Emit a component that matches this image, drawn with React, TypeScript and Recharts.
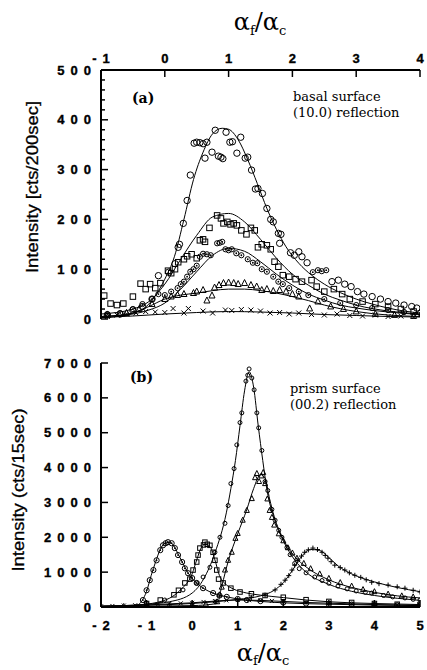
import React from 'react';
import { ComposedChart, Line, Scatter, XAxis, YAxis } from 'recharts';

// ---------- Panel (a): basal surface (10.0) reflection ----------
const aXTicks = [-1, 0, 1, 2, 3, 4];
const aYTicks = [0, 20, 40, 60, 80, 100, 120, 140, 160, 180, 200, 220, 240, 260, 280, 300, 320, 340, 360, 380, 400, 420, 440, 460, 480, 500];

const fitA1 = [[-1, 3], [-0.75, 5], [-0.5, 12], [-0.25, 30], [0, 80], [0.15, 125], [0.3, 200], [0.45, 280], [0.6, 335], [0.75, 372], [0.9, 383], [1.0, 381], [1.15, 360], [1.3, 320], [1.45, 272], [1.6, 222], [1.75, 180], [1.9, 145], [2.1, 112], [2.3, 88], [2.5, 70], [2.75, 53], [3.0, 40], [3.25, 30], [3.5, 22], [3.75, 16], [4.0, 12]];
const fitA2 = [[-1, 10], [-0.5, 20], [-0.25, 35], [0, 70], [0.25, 120], [0.5, 168], [0.75, 205], [1.0, 212], [1.25, 195], [1.5, 160], [1.75, 122], [2.0, 90], [2.25, 68], [2.5, 50], [2.75, 38], [3.0, 28], [3.5, 16], [4.0, 10]];
const fitA3 = [[-1, 5], [-0.5, 10], [-0.25, 18], [0, 32], [0.25, 60], [0.5, 95], [0.75, 128], [1.0, 142], [1.25, 136], [1.5, 115], [1.75, 90], [2.0, 68], [2.25, 50], [2.5, 38], [2.75, 28], [3.0, 22], [3.5, 14], [4.0, 9]];
const fitA4 = [[-1, 5], [-0.5, 12], [-0.25, 25], [0, 40], [0.25, 48], [0.5, 52], [0.75, 57], [1.0, 60], [1.25, 60], [1.5, 57], [1.75, 52], [2.0, 45], [2.25, 37], [2.5, 28], [3.0, 15], [3.5, 8], [4.0, 5]];
const fitA5 = [[-1, 3], [-0.5, 6], [0, 10], [0.5, 13], [1.0, 15], [1.5, 14], [2.0, 12], [2.5, 9], [3.0, 7], [3.5, 5], [4.0, 4]];

const ptsA1 = [[-0.9, 8], [-0.7, 10], [-0.5, 18], [-0.35, 25], [-0.2, 40], [-0.1, 87], [0.06, 94], [0.16, 111], [0.21, 144], [0.23, 150], [0.29, 192], [0.35, 238], [0.4, 289], [0.46, 353], [0.5, 355], [0.55, 354], [0.6, 352], [0.63, 323], [0.66, 355], [0.74, 335], [0.79, 379], [0.84, 327], [0.88, 325], [0.91, 322], [0.96, 375], [1.02, 355], [1.06, 356], [1.13, 333], [1.19, 365], [1.26, 323], [1.3, 325], [1.36, 299], [1.42, 261], [1.46, 262], [1.53, 252], [1.6, 222], [1.66, 200], [1.7, 195], [1.78, 172], [1.82, 170], [1.8, 152], [1.97, 133], [2.03, 128], [2.1, 135], [2.15, 125], [2.23, 113], [2.62, 75], [2.72, 78], [2.82, 70], [2.92, 65], [3.02, 55], [3.12, 50], [3.25, 45], [3.38, 40], [3.5, 35], [3.62, 32], [3.75, 28], [3.87, 25], [3.95, 22]];
const ptsA2 = [[-0.95, 47], [-0.85, 31], [-0.75, 28], [-0.65, 31], [-0.5, 45], [-0.38, 71], [-0.3, 60], [-0.23, 70], [-0.15, 62], [-0.07, 72], [0.05, 97], [0.1, 92], [0.16, 100], [0.21, 114], [0.3, 120], [0.35, 126], [0.42, 130], [0.5, 122], [0.55, 158], [0.6, 160], [0.63, 155], [0.7, 183], [0.82, 208], [0.88, 202], [0.92, 192], [0.98, 195], [1.03, 190], [1.08, 192], [1.13, 188], [1.2, 178], [1.28, 170], [1.35, 183], [1.41, 178], [1.46, 144], [1.52, 150], [1.6, 148], [1.66, 140], [1.72, 115], [1.78, 105], [1.85, 88], [1.95, 85], [2.05, 80], [2.15, 75], [2.3, 78], [2.38, 65], [2.5, 55], [2.65, 60], [2.78, 50], [2.9, 40], [3.1, 35], [3.3, 30], [3.5, 25], [3.7, 20], [3.9, 15]];
const ptsA3 = [[-0.9, 10], [-0.7, 12], [-0.5, 20], [-0.35, 30], [-0.2, 40], [-0.1, 50], [0.0, 48], [0.1, 55], [0.2, 62], [0.25, 70], [0.3, 75], [0.35, 85], [0.4, 95], [0.45, 100], [0.5, 107], [0.55, 125], [0.6, 131], [0.66, 130], [0.72, 128], [0.82, 152], [0.86, 153], [0.9, 155], [0.95, 140], [1.0, 138], [1.05, 140], [1.12, 132], [1.2, 128], [1.3, 120], [1.38, 113], [1.45, 112], [1.52, 100], [1.6, 95], [1.7, 85], [1.78, 75], [1.85, 70], [1.95, 62], [2.1, 55], [2.32, 94], [2.4, 98], [2.46, 96], [2.53, 98], [2.25, 48], [2.5, 40], [2.75, 32], [3.0, 28], [3.25, 22], [3.5, 18], [3.75, 14], [4.0, 12]];
const ptsA4 = [[-0.9, 8], [-0.6, 12], [-0.4, 20], [-0.2, 30], [0.0, 40], [0.1, 45], [0.2, 48], [0.3, 50], [0.45, 52], [0.5, 55], [0.6, 58], [0.66, 37], [0.74, 47], [0.78, 63], [0.85, 68], [0.92, 72], [1.0, 73], [1.08, 72], [1.15, 70], [1.25, 72], [1.35, 68], [1.44, 65], [1.52, 58], [1.6, 60], [1.7, 56], [1.8, 58], [1.9, 55], [2.0, 50], [2.1, 45], [2.27, 21], [2.4, 35], [2.6, 25], [2.8, 20], [3.0, 15], [3.3, 10], [3.6, 8], [3.9, 6]];
const ptsA5 = [[-0.9, 5], [-0.75, 8], [-0.6, 10], [-0.45, 12], [-0.3, 15], [-0.15, 14], [0.0, 13], [0.13, 21], [0.3, 12], [0.37, 21], [0.6, 16], [0.75, 12], [0.95, 18], [1.05, 17], [1.2, 19], [1.35, 18], [1.5, 16], [1.65, 12], [1.8, 13], [1.95, 10], [2.1, 12], [2.3, 9], [2.5, 8], [2.7, 10], [2.9, 7], [3.1, 6], [3.3, 8], [3.5, 5], [3.7, 6], [3.9, 4]];

// ---------- Panel (b): prism surface (00.2) reflection ----------
const bXTicks = [-2, -1, 0, 1, 2, 3, 4, 5];
const bYTicks = [0, 1000, 2000, 3000, 4000, 5000, 6000, 7000];

const fitB1 = [[-2, 20], [-1, 80], [-0.5, 150], [0, 400], [0.25, 800], [0.5, 1550], [0.75, 2700], [0.85, 3400], [0.95, 4200], [1.05, 5200], [1.15, 6200], [1.25, 6750], [1.35, 6300], [1.45, 5200], [1.55, 4200], [1.65, 3300], [1.8, 2550], [2.0, 1900], [2.25, 1350], [2.5, 1000], [3.0, 650], [3.5, 450], [4.0, 330], [4.5, 250], [5.0, 190]];
const fitB2 = [[-2, 10], [0, 40], [0.55, 100], [0.65, 600], [0.8, 1350], [1.0, 2100], [1.2, 2800], [1.35, 3400], [1.5, 3800], [1.6, 3700], [1.7, 3100], [1.8, 2600], [2.0, 1950], [2.25, 1450], [2.5, 1150], [3.0, 780], [3.5, 560], [4.0, 420], [4.5, 320], [5.0, 260]];
const fitB3 = [[-2, 10], [-1.5, 20], [-1.2, 60], [-1.1, 180], [-1.0, 450], [-0.9, 900], [-0.8, 1300], [-0.7, 1650], [-0.6, 1830], [-0.5, 1850], [-0.4, 1750], [-0.3, 1500], [-0.2, 1250], [-0.1, 1000], [0, 820], [0.2, 580], [0.4, 430], [0.6, 340], [0.8, 280], [1.0, 230], [1.5, 160], [2.0, 120], [3.0, 80], [4.0, 55], [5.0, 40]];
const fitB4 = [[-2, 15], [-1.5, 30], [-1, 80], [-0.5, 250], [-0.25, 500], [0, 950], [0.1, 1350], [0.2, 1700], [0.3, 1800], [0.4, 1720], [0.5, 1350], [0.6, 900], [0.7, 700], [0.9, 520], [1.2, 400], [1.5, 340], [2.0, 270], [2.5, 200], [3.0, 150], [4.0, 100], [5.0, 70]];
const fitB5 = [[-2, 30], [-1, 50], [0, 100], [0.5, 150], [1.0, 220], [1.5, 320], [1.8, 480], [2.0, 700], [2.2, 1050], [2.4, 1450], [2.6, 1650], [2.8, 1620], [3.0, 1420], [3.2, 1180], [3.5, 950], [4.0, 720], [4.5, 560], [5.0, 440]];
const fitB6 = [[-2, 20], [-1.5, 40], [-1, 60], [-0.5, 90], [0, 120], [0.5, 170], [1.0, 200], [1.5, 190], [2.0, 160], [2.5, 130], [3.0, 110], [3.5, 90], [4.0, 70], [4.5, 60], [5.0, 50]];

const ptsB1 = [[-1.0, 100], [-0.6, 200], [-0.2, 490], [0.1, 690], [0.24, 860], [0.39, 1140], [0.5, 1570], [0.61, 2000], [0.72, 2400], [0.79, 2910], [0.85, 3540], [0.92, 3970], [0.98, 4650], [1.05, 5290], [1.09, 5570], [1.18, 6480], [1.22, 6650], [1.25, 6830], [1.31, 6570], [1.36, 6230], [1.42, 5570], [1.46, 5140], [1.53, 4490], [1.6, 3600], [1.66, 3340], [1.75, 2800], [1.82, 2490], [1.9, 2200], [1.97, 2000], [2.08, 1710], [2.15, 1500], [2.25, 1250], [2.35, 1100], [2.5, 980], [2.69, 860], [2.85, 760], [3.0, 680], [3.2, 600], [3.4, 520], [3.6, 460], [3.8, 420], [3.94, 400], [4.2, 330], [4.4, 290], [4.67, 260], [4.85, 220], [5.0, 200]];
const ptsB2 = [[0.0, 50], [0.3, 80], [0.55, 150], [0.6, 350], [0.65, 570], [0.72, 1060], [0.79, 1340], [0.87, 1570], [0.95, 1970], [1.0, 2110], [1.11, 2490], [1.2, 2770], [1.31, 3110], [1.38, 3710], [1.42, 3830], [1.47, 3600], [1.52, 3760], [1.56, 3860], [1.6, 3540], [1.65, 3100], [1.7, 2770], [1.75, 2570], [1.8, 2350], [1.9, 2100], [2.0, 1900], [2.1, 1700], [2.2, 1550], [2.3, 1400], [2.45, 1250], [2.6, 1100], [2.8, 950], [3.0, 820], [3.25, 700], [3.5, 600], [3.75, 500], [4.0, 440], [4.3, 370], [4.6, 320], [4.85, 290]];
const ptsB3 = [[-1.08, 200], [-1.0, 480], [-0.93, 770], [-0.85, 1060], [-0.78, 1340], [-0.7, 1630], [-0.64, 1770], [-0.58, 1830], [-0.53, 1860], [-0.45, 1830], [-0.38, 1690], [-0.31, 1490], [-0.22, 1290], [-0.16, 1110], [-0.09, 970], [0.0, 830], [0.1, 690], [0.24, 540], [0.46, 400], [0.6, 330], [0.76, 290], [1.0, 230], [1.2, 200], [1.5, 170], [2.0, 130], [2.5, 100], [3.0, 85], [3.5, 70], [4.0, 60], [4.5, 50], [5.0, 40]];
const ptsB4 = [[-1.0, 100], [-0.7, 200], [-0.4, 350], [-0.3, 480], [-0.16, 690], [-0.05, 800], [0.02, 1060], [0.1, 1290], [0.13, 1490], [0.17, 1690], [0.25, 1780], [0.28, 1860], [0.33, 1800], [0.39, 1770], [0.46, 1570], [0.5, 1340], [0.54, 1060], [0.58, 800], [0.68, 690], [0.85, 540], [1.05, 430], [1.3, 380], [1.6, 330], [2.0, 280], [2.5, 210], [3.0, 160], [3.5, 130], [4.0, 100], [4.5, 80], [5.0, 70]];
const ptsB5 = [[-1.5, 40], [-1.0, 50], [-0.5, 70], [0.0, 100], [0.5, 150], [1.0, 220], [1.3, 270], [1.6, 340], [1.82, 490], [1.95, 650], [2.04, 770], [2.12, 900], [2.19, 1060], [2.25, 1200], [2.32, 1340], [2.4, 1460], [2.47, 1570], [2.55, 1640], [2.65, 1690], [2.75, 1650], [2.85, 1570], [2.92, 1480], [2.98, 1400], [3.05, 1300], [3.13, 1200], [3.25, 1130], [3.35, 1060], [3.45, 980], [3.57, 910], [3.7, 850], [3.82, 780], [3.94, 710], [4.1, 670], [4.3, 630], [4.5, 580], [4.67, 540], [4.85, 480], [5.0, 430]];
const ptsB6 = [[-2, 20], [-1.75, 30], [-1.5, 40], [-1.25, 50], [-1, 60], [-0.75, 75], [-0.5, 90], [-0.25, 105], [0, 120], [0.25, 145], [0.5, 170], [0.75, 190], [1.0, 200], [1.25, 195], [1.5, 190], [1.75, 175], [2.0, 160], [2.5, 130], [3.0, 110], [3.5, 90], [4.0, 70], [4.5, 60], [5.0, 50]];

const toPts = (a: number[][]) => a.map(([x, y]) => ({ x, y }));

// ---------- styling helpers ----------
const TICK_FAMILY = '"Liberation Sans", Arial, Helvetica, sans-serif';
const SPACING = 6;

type Side = 'top' | 'bottom' | 'left' | 'right';
const tickText = (x: number, y: number, anchor: 'middle' | 'end', s: string) => {
  const single = s.length === 1;
  return (
    <text
      x={anchor === 'middle' && !single ? x + SPACING / 2 : x}
      y={y}
      textAnchor={anchor}
      fontFamily={TICK_FAMILY}
      fontWeight="bold"
      fontSize={13}
      letterSpacing={single ? 0 : SPACING}
      fill="#000"
      stroke="#000"
      strokeWidth={0.35}
    >
      {s}
    </text>
  );
};
const makeTick = (side: Side, labels: boolean, majorEvery: number) => (props: any) => {
  const { x, y, payload } = props;
  const v = payload.value as number;
  const isMajor = Math.abs(v / majorEvery - Math.round(v / majorEvery)) < 1e-6;
  const len = isMajor ? 7 : 4;
  let line;
  let label = null;
  if (side === 'top') {
    line = <line x1={x} y1={y} x2={x} y2={y + len} stroke="#000" strokeWidth={1.5} />;
    if (labels && isMajor) label = tickText(x, y - 7, 'middle', String(v));
  } else if (side === 'bottom') {
    line = <line x1={x} y1={y} x2={x} y2={y - len} stroke="#000" strokeWidth={1.5} />;
    if (labels && isMajor) label = tickText(x, y + 23, 'middle', String(v));
  } else if (side === 'left') {
    line = <line x1={x} y1={y} x2={x + len} y2={y} stroke="#000" strokeWidth={1.5} />;
    if (labels && isMajor) label = tickText(x - 4 + (String(v).length === 1 ? -SPACING : 0), y + 4.5, 'end', String(v));
  } else {
    line = <line x1={x} y1={y} x2={x - len} y2={y} stroke="#000" strokeWidth={1.5} />;
  }
  return (
    <g>
      {line}
      {label}
    </g>
  );
};

const AXIS_LINE = { stroke: '#000', strokeWidth: 2 };

// marker shapes
const openCircle = (r: number, dot: boolean) => (p: any) => (
  <g>
    <circle cx={p.cx} cy={p.cy} r={r} fill="none" stroke="#000" strokeWidth={1} />
    {dot ? <circle cx={p.cx} cy={p.cy} r={0.9} fill="#000" /> : null}
  </g>
);
const openSquare = (s: number) => (p: any) => (
  <rect x={p.cx - s / 2} y={p.cy - s / 2} width={s} height={s} fill="none" stroke="#000" strokeWidth={1} />
);
const openTriangle = (s: number) => (p: any) => (
  <polygon
    points={`${p.cx},${p.cy - s * 0.6} ${p.cx - s / 2},${p.cy + s * 0.4} ${p.cx + s / 2},${p.cy + s * 0.4}`}
    fill="none"
    stroke="#000"
    strokeWidth={1}
  />
);
const cross = (s: number) => (p: any) => (
  <g stroke="#000" strokeWidth={1}>
    <line x1={p.cx - s} y1={p.cy - s} x2={p.cx + s} y2={p.cy + s} />
    <line x1={p.cx - s} y1={p.cy + s} x2={p.cx + s} y2={p.cy - s} />
  </g>
);
const plus = (s: number) => (p: any) => (
  <g stroke="#000" strokeWidth={1}>
    <line x1={p.cx - s} y1={p.cy} x2={p.cx + s} y2={p.cy} />
    <line x1={p.cx} y1={p.cy - s} x2={p.cx} y2={p.cy + s} />
  </g>
);

const fitLine = (data: number[][], xId: string, yId: string, key: string) => (
  <Line
    key={key}
    xAxisId={xId}
    yAxisId={yId}
    data={toPts(data)}
    dataKey="y"
    type="monotone"
    dot={false}
    activeDot={false}
    stroke="#000"
    strokeWidth={1}
    isAnimationActive={false}
  />
);
const pointSet = (data: number[][], xId: string, yId: string, key: string, shape: any) => (
  <Scatter
    key={key}
    xAxisId={xId}
    yAxisId={yId}
    data={toPts(data)}
    dataKey="y"
    shape={shape}
    isAnimationActive={false}
  />
);

const SERIF = '"DejaVu Serif", "Liberation Serif", serif';
const SANS = '"Liberation Sans", Arial, sans-serif';

export default function App() {
  return (
    <div style={{ position: 'absolute', left: 0, top: 0, width: 427, height: 670, background: '#fff' }}>
      {/* Panel (a) */}
      <div style={{ position: 'absolute', left: 0, top: 0 }}>
        <ComposedChart width={427} height={330} margin={{ top: 40, right: 7, bottom: 11, left: 41 }}>
          <XAxis xAxisId="t" orientation="top" type="number" dataKey="x" domain={[-1, 4]} allowDataOverflow ticks={aXTicks} interval={0} height={30} tickSize={0} tickMargin={0} tickLine={false} axisLine={AXIS_LINE} tick={makeTick('top', true, 1)} />
          <XAxis xAxisId="b" orientation="bottom" type="number" dataKey="x" domain={[-1, 4]} allowDataOverflow ticks={aXTicks} interval={0} height={0} tickSize={0} tickMargin={0} tickLine={false} axisLine={AXIS_LINE} tick={makeTick('bottom', false, 1)} />
          <YAxis yAxisId="l" orientation="left" type="number" domain={[0, 500]} allowDataOverflow ticks={aYTicks} interval={0} width={60} tickSize={0} tickMargin={0} tickLine={false} axisLine={AXIS_LINE} tick={makeTick('left', true, 100)} />
          <YAxis yAxisId="r" orientation="right" type="number" domain={[0, 500]} allowDataOverflow ticks={aYTicks} interval={0} width={0} tickSize={0} tickMargin={0} tickLine={false} axisLine={AXIS_LINE} tick={makeTick('right', false, 100)} />
          {fitLine(fitA1, 't', 'l', 'fa1')}
          {fitLine(fitA2, 't', 'l', 'fa2')}
          {fitLine(fitA3, 't', 'l', 'fa3')}
          {fitLine(fitA4, 't', 'l', 'fa4')}
          {fitLine(fitA5, 't', 'l', 'fa5')}
          {pointSet(ptsA1, 't', 'l', 'pa1', openCircle(3.2, false))}
          {pointSet(ptsA2, 't', 'l', 'pa2', openSquare(5.5))}
          {pointSet(ptsA3, 't', 'l', 'pa3', openCircle(2.6, true))}
          {pointSet(ptsA4, 't', 'l', 'pa4', openTriangle(6))}
          {pointSet(ptsA5, 't', 'l', 'pa5', cross(2.5))}
        </ComposedChart>
      </div>

      {/* Panel (b) */}
      <div style={{ position: 'absolute', left: 0, top: 340 }}>
        <ComposedChart width={427} height={330} margin={{ top: 23, right: 7, bottom: 23, left: 41 }}>
          <XAxis xAxisId="t" orientation="top" type="number" dataKey="x" domain={[-2, 5]} allowDataOverflow ticks={bXTicks} interval={0} height={0} tickSize={0} tickMargin={0} tickLine={false} axisLine={AXIS_LINE} tick={makeTick('top', false, 1)} />
          <XAxis xAxisId="b" orientation="bottom" type="number" dataKey="x" domain={[-2, 5]} allowDataOverflow ticks={bXTicks} interval={0} height={40} tickSize={0} tickMargin={0} tickLine={false} axisLine={AXIS_LINE} tick={makeTick('bottom', true, 1)} />
          <YAxis yAxisId="l" orientation="left" type="number" domain={[0, 7000]} allowDataOverflow ticks={bYTicks} interval={0} width={60} tickSize={0} tickMargin={0} tickLine={false} axisLine={AXIS_LINE} tick={makeTick('left', true, 1000)} />
          <YAxis yAxisId="r" orientation="right" type="number" domain={[0, 7000]} allowDataOverflow ticks={bYTicks} interval={0} width={0} tickSize={0} tickMargin={0} tickLine={false} axisLine={AXIS_LINE} tick={makeTick('right', false, 1000)} />
          {fitLine(fitB1, 'b', 'l', 'fb1')}
          {fitLine(fitB2, 'b', 'l', 'fb2')}
          {fitLine(fitB3, 'b', 'l', 'fb3')}
          {fitLine(fitB4, 'b', 'l', 'fb4')}
          {fitLine(fitB5, 'b', 'l', 'fb5')}
          {fitLine(fitB6, 'b', 'l', 'fb6')}
          {pointSet(ptsB1, 'b', 'l', 'pb1', openCircle(2, false))}
          {pointSet(ptsB2, 'b', 'l', 'pb2', openTriangle(5))}
          {pointSet(ptsB3, 'b', 'l', 'pb3', openCircle(2.6, true))}
          {pointSet(ptsB4, 'b', 'l', 'pb4', openSquare(4.5))}
          {pointSet(ptsB5, 'b', 'l', 'pb5', plus(2.5))}
          {pointSet(ptsB6, 'b', 'l', 'pb6', cross(2))}
        </ComposedChart>
      </div>

      {/* Titles and annotations */}
      <svg width={427} height={670} style={{ position: 'absolute', left: 0, top: 0, pointerEvents: 'none' }}>
        <text x={260} y={30} textAnchor="middle" fontFamily={SERIF} fontSize={24} fill="#000">
          α<tspan fontSize={13} dy={5}>f</tspan>
          <tspan dy={-5}>/α</tspan>
          <tspan fontSize={13} dy={5}>c</tspan>
        </text>
        <text x={263} y={661} textAnchor="middle" fontFamily={SERIF} fontSize={24} fill="#000">
          α<tspan fontSize={13} dy={4}>f</tspan>
          <tspan dy={-4}>/α</tspan>
          <tspan fontSize={13} dy={4}>c</tspan>
        </text>
        <text transform="translate(38,187) rotate(-90)" textAnchor="middle" fontFamily={SANS} fontSize={17} textLength={172} lengthAdjust="spacingAndGlyphs" fill="#000" stroke="#000" strokeWidth={0.3}>
          Intensity [cts/200sec]
        </text>
        <text transform="translate(24,490) rotate(-90)" textAnchor="middle" fontFamily={SANS} fontSize={16} textLength={163} lengthAdjust="spacingAndGlyphs" fill="#000" stroke="#000" strokeWidth={0.3}>
          Intensity (cts/15sec)
        </text>
        <text x={132} y={103} fontFamily={SERIF} fontWeight={700} fontSize={14} fill="#000">(a)</text>
        <text x={293} y={101} fontFamily={SERIF} fontSize={13} fill="#000">basal surface</text>
        <text x={293} y={117} fontFamily={SERIF} fontSize={13} fill="#000">(10.0) reflection</text>
        <text x={130} y={382} fontFamily={SERIF} fontWeight={700} fontSize={14} fill="#000">(b)</text>
        <text x={290} y={393} fontFamily={SERIF} fontSize={13} fill="#000">prism surface</text>
        <text x={290} y={409} fontFamily={SERIF} fontSize={13} fill="#000">(00.2) reflection</text>
      </svg>
    </div>
  );
}
